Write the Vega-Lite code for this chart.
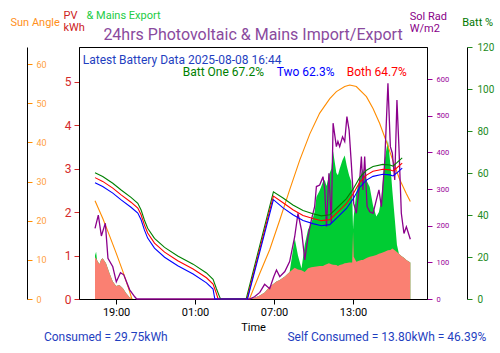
{
 "$schema": "https://vega.github.io/schema/vega-lite/v6.json",
 "width": 348, "height": 252,
 "autosize": {"type": "none"},
 "padding": {"left": 79, "top": 47, "right": 73, "bottom": 54},
 "background": "white",
 "config": {"font": "Roboto", "view": {"stroke": "black", "strokeWidth": 1}, "axis": {"grid": false, "domainColor": "black", "titleFontWeight": "normal", "titleFont": "Roboto", "labelFont": "Roboto"}},
 "title": {"text": "24hrs Photovoltaic & Mains Import/Export", "color": "#8a4a9e", "fontSize": 16, "fontWeight": "normal", "anchor": "middle", "frame": "group", "baseline": "alphabetic", "offset": 10, "dx": 0, "dy": 56.5},
 "datasets": {
  "pv": [
   {"t":"2025-08-07T17:24","pv":0.96,"top":1.00},
   {"t":"2025-08-07T17:29","pv":0.93,"top":1.09},
   {"t":"2025-08-07T17:33","pv":0.90,"top":0.90},
   {"t":"2025-08-07T17:44","pv":0.80,"top":0.80},
   {"t":"2025-08-07T17:52","pv":0.91,"top":0.91},
   {"t":"2025-08-07T17:59","pv":0.94,"top":0.94},
   {"t":"2025-08-07T18:14","pv":0.82,"top":0.82},
   {"t":"2025-08-07T18:30","pv":0.59,"top":0.59},
   {"t":"2025-08-07T18:45","pv":0.40,"top":0.40},
   {"t":"2025-08-07T19:00","pv":0.30,"top":0.30},
   {"t":"2025-08-07T19:15","pv":0.32,"top":0.32},
   {"t":"2025-08-07T19:31","pv":0.25,"top":0.25},
   {"t":"2025-08-07T19:46","pv":0.13,"top":0.13},
   {"t":"2025-08-07T20:01","pv":0.04,"top":0.04},
   {"t":"2025-08-07T20:16","pv":0,"top":0},
   {"t":"2025-08-08T05:08","pv":0,"top":0},
   {"t":"2025-08-08T05:31","pv":0.03,"top":0.03},
   {"t":"2025-08-08T05:55","pv":0.08,"top":0.08},
   {"t":"2025-08-08T06:17","pv":0.15,"top":0.15},
   {"t":"2025-08-08T06:40","pv":0.28,"top":0.28},
   {"t":"2025-08-08T06:58","pv":0.35,"top":0.35},
   {"t":"2025-08-08T07:11","pv":0.40,"top":0.40},
   {"t":"2025-08-08T07:26","pv":0.44,"top":0.44},
   {"t":"2025-08-08T07:49","pv":0.52,"top":0.52},
   {"t":"2025-08-08T08:11","pv":0.62,"top":0.62},
   {"t":"2025-08-08T08:34","pv":0.72,"top":1.40},
   {"t":"2025-08-08T08:49","pv":0.68,"top":1.00},
   {"t":"2025-08-08T09:05","pv":0.66,"top":0.70},
   {"t":"2025-08-08T09:20","pv":0.62,"top":1.25},
   {"t":"2025-08-08T09:35","pv":0.71,"top":1.60},
   {"t":"2025-08-08T09:50","pv":0.73,"top":1.75},
   {"t":"2025-08-08T10:05","pv":0.74,"top":2.00},
   {"t":"2025-08-08T10:13","pv":0.75,"top":2.35},
   {"t":"2025-08-08T10:28","pv":0.76,"top":2.50},
   {"t":"2025-08-08T10:43","pv":0.76,"top":2.70},
   {"t":"2025-08-08T10:51","pv":0.78,"top":2.74},
   {"t":"2025-08-08T10:59","pv":0.80,"top":2.60},
   {"t":"2025-08-08T11:10","pv":0.82,"top":2.85},
   {"t":"2025-08-08T11:21","pv":0.80,"top":3.00},
   {"t":"2025-08-08T11:29","pv":0.79,"top":3.40},
   {"t":"2025-08-08T11:44","pv":0.78,"top":2.90},
   {"t":"2025-08-08T11:51","pv":0.76,"top":2.85},
   {"t":"2025-08-08T11:59","pv":0.78,"top":3.00},
   {"t":"2025-08-08T12:12","pv":0.80,"top":3.20},
   {"t":"2025-08-08T12:22","pv":0.82,"top":3.30},
   {"t":"2025-08-08T12:32","pv":0.83,"top":3.05},
   {"t":"2025-08-08T12:42","pv":0.84,"top":2.85},
   {"t":"2025-08-08T12:52","pv":0.84,"top":2.70},
   {"t":"2025-08-08T12:56","pv":0.84,"top":2.40},
   {"t":"2025-08-08T13:00","pv":1.55,"top":1.60},
   {"t":"2025-08-08T13:03","pv":0.97,"top":1.90},
   {"t":"2025-08-08T13:15","pv":0.86,"top":2.45},
   {"t":"2025-08-08T13:27","pv":0.88,"top":2.70},
   {"t":"2025-08-08T13:38","pv":0.90,"top":2.90},
   {"t":"2025-08-08T13:45","pv":0.90,"top":3.00},
   {"t":"2025-08-08T13:53","pv":0.92,"top":2.85},
   {"t":"2025-08-08T14:04","pv":0.95,"top":2.70},
   {"t":"2025-08-08T14:16","pv":0.97,"top":2.58},
   {"t":"2025-08-08T14:31","pv":0.99,"top":2.15},
   {"t":"2025-08-08T14:46","pv":1.01,"top":1.90},
   {"t":"2025-08-08T14:58","pv":1.04,"top":2.00},
   {"t":"2025-08-08T15:09","pv":1.06,"top":2.30},
   {"t":"2025-08-08T15:24","pv":1.09,"top":3.20},
   {"t":"2025-08-08T15:39","pv":1.12,"top":3.66},
   {"t":"2025-08-08T15:50","pv":1.13,"top":3.10},
   {"t":"2025-08-08T15:59","pv":1.16,"top":2.50},
   {"t":"2025-08-08T16:10","pv":1.12,"top":1.85},
   {"t":"2025-08-08T16:20","pv":1.08,"top":1.25},
   {"t":"2025-08-08T16:29","pv":1.04,"top":1.04},
   {"t":"2025-08-08T16:40","pv":0.99,"top":0.99},
   {"t":"2025-08-08T16:52","pv":0.95,"top":0.95},
   {"t":"2025-08-08T17:03","pv":0.90,"top":0.90},
   {"t":"2025-08-08T17:21","pv":0.84,"top":0.84}
  ],
  "sun": [
   {"t":"2025-08-07T17:24","seg":"eve","deg":25.1},
   {"t":"2025-08-07T18:00","seg":"eve","deg":20.5},
   {"t":"2025-08-07T18:30","seg":"eve","deg":16.2},
   {"t":"2025-08-07T19:00","seg":"eve","deg":11.8},
   {"t":"2025-08-07T19:30","seg":"eve","deg":7.2},
   {"t":"2025-08-07T20:00","seg":"eve","deg":2.2},
   {"t":"2025-08-07T20:12","seg":"eve","deg":0},
   {"t":"2025-08-08T05:08","seg":"day","deg":0},
   {"t":"2025-08-08T05:55","seg":"day","deg":6.6},
   {"t":"2025-08-08T06:40","seg":"day","deg":12.6},
   {"t":"2025-08-08T07:26","seg":"day","deg":20.2},
   {"t":"2025-08-08T08:11","seg":"day","deg":27.9},
   {"t":"2025-08-08T08:57","seg":"day","deg":35.5},
   {"t":"2025-08-08T09:43","seg":"day","deg":42.2},
   {"t":"2025-08-08T10:28","seg":"day","deg":47.5},
   {"t":"2025-08-08T11:14","seg":"day","deg":51.2},
   {"t":"2025-08-08T11:44","seg":"day","deg":53.0},
   {"t":"2025-08-08T12:22","seg":"day","deg":54.3},
   {"t":"2025-08-08T12:45","seg":"day","deg":54.7},
   {"t":"2025-08-08T13:15","seg":"day","deg":54.3},
   {"t":"2025-08-08T14:01","seg":"day","deg":51.7},
   {"t":"2025-08-08T14:31","seg":"day","deg":48.7},
   {"t":"2025-08-08T15:01","seg":"day","deg":44.9},
   {"t":"2025-08-08T15:32","seg":"day","deg":40.2},
   {"t":"2025-08-08T16:02","seg":"day","deg":35.3},
   {"t":"2025-08-08T16:32","seg":"day","deg":30.6},
   {"t":"2025-08-08T17:03","seg":"day","deg":26.9},
   {"t":"2025-08-08T17:21","seg":"day","deg":24.9}
  ],
  "rad": [
   {"t":"2025-08-07T17:24","w":193},
   {"t":"2025-08-07T17:39","w":229},
   {"t":"2025-08-07T17:53","w":172},
   {"t":"2025-08-07T18:11","w":207},
   {"t":"2025-08-07T18:23","w":111},
   {"t":"2025-08-07T18:45","w":88},
   {"t":"2025-08-07T19:01","w":47},
   {"t":"2025-08-07T19:20","w":72},
   {"t":"2025-08-07T19:35","w":66},
   {"t":"2025-08-07T20:02","w":25},
   {"t":"2025-08-07T20:25","w":6},
   {"t":"2025-08-07T20:34","w":0},
   {"t":"2025-08-08T05:08","w":0},
   {"t":"2025-08-08T05:31","w":6},
   {"t":"2025-08-08T05:55","w":18},
   {"t":"2025-08-08T06:17","w":40},
   {"t":"2025-08-08T06:40","w":28},
   {"t":"2025-08-08T06:58","w":60},
   {"t":"2025-08-08T07:11","w":79},
   {"t":"2025-08-08T07:26","w":61},
   {"t":"2025-08-08T07:49","w":75},
   {"t":"2025-08-08T08:11","w":102},
   {"t":"2025-08-08T08:34","w":170},
   {"t":"2025-08-08T08:49","w":234},
   {"t":"2025-08-08T09:05","w":188},
   {"t":"2025-08-08T09:20","w":107},
   {"t":"2025-08-08T09:35","w":170},
   {"t":"2025-08-08T09:50","w":216},
   {"t":"2025-08-08T10:05","w":252},
   {"t":"2025-08-08T10:13","w":307},
   {"t":"2025-08-08T10:28","w":311},
   {"t":"2025-08-08T10:43","w":334},
   {"t":"2025-08-08T10:51","w":298},
   {"t":"2025-08-08T10:59","w":197},
   {"t":"2025-08-08T11:10","w":343},
   {"t":"2025-08-08T11:21","w":207},
   {"t":"2025-08-08T11:29","w":480},
   {"t":"2025-08-08T11:44","w":416},
   {"t":"2025-08-08T11:51","w":430},
   {"t":"2025-08-08T11:59","w":416},
   {"t":"2025-08-08T12:12","w":443},
   {"t":"2025-08-08T12:22","w":430},
   {"t":"2025-08-08T12:32","w":498},
   {"t":"2025-08-08T12:42","w":461},
   {"t":"2025-08-08T12:52","w":371},
   {"t":"2025-08-08T13:03","w":261},
   {"t":"2025-08-08T13:15","w":234},
   {"t":"2025-08-08T13:27","w":298},
   {"t":"2025-08-08T13:38","w":389},
   {"t":"2025-08-08T13:45","w":298},
   {"t":"2025-08-08T13:53","w":389},
   {"t":"2025-08-08T14:04","w":252},
   {"t":"2025-08-08T14:16","w":238},
   {"t":"2025-08-08T14:31","w":234},
   {"t":"2025-08-08T14:46","w":270},
   {"t":"2025-08-08T14:58","w":298},
   {"t":"2025-08-08T15:09","w":252},
   {"t":"2025-08-08T15:24","w":371},
   {"t":"2025-08-08T15:39","w":589},
   {"t":"2025-08-08T15:50","w":416},
   {"t":"2025-08-08T15:59","w":398},
   {"t":"2025-08-08T16:10","w":325},
   {"t":"2025-08-08T16:20","w":543},
   {"t":"2025-08-08T16:29","w":416},
   {"t":"2025-08-08T16:40","w":234},
   {"t":"2025-08-08T16:52","w":179},
   {"t":"2025-08-08T17:03","w":197},
   {"t":"2025-08-08T17:21","w":163}
  ],
  "batt": [
   {"t":"2025-08-07T17:24","k":"Batt One","pct":60.1},
   {"t":"2025-08-07T17:59","k":"Batt One","pct":58.3},
   {"t":"2025-08-07T18:45","k":"Batt One","pct":55.1},
   {"t":"2025-08-07T19:23","k":"Batt One","pct":51.9},
   {"t":"2025-08-07T20:08","k":"Batt One","pct":48.4},
   {"t":"2025-08-07T20:39","k":"Batt One","pct":45.6},
   {"t":"2025-08-07T20:54","k":"Batt One","pct":42.4},
   {"t":"2025-08-07T21:09","k":"Batt One","pct":37.6},
   {"t":"2025-08-07T21:24","k":"Batt One","pct":33.7},
   {"t":"2025-08-07T21:55","k":"Batt One","pct":28.9},
   {"t":"2025-08-07T22:41","k":"Batt One","pct":24.6},
   {"t":"2025-08-07T23:41","k":"Batt One","pct":20.5},
   {"t":"2025-08-08T00:51","k":"Batt One","pct":16.6},
   {"t":"2025-08-08T01:52","k":"Batt One","pct":12.4},
   {"t":"2025-08-08T02:22","k":"Batt One","pct":9.4},
   {"t":"2025-08-08T02:37","k":"Batt One","pct":5.0},
   {"t":"2025-08-08T02:50","k":"Batt One","pct":1.5},
   {"t":"2025-08-08T02:56","k":"Batt One","pct":0},
   {"t":"2025-08-08T04:53","k":"Batt One","pct":0},
   {"t":"2025-08-08T06:57","k":"Batt One","pct":51.0},
   {"t":"2025-08-08T07:41","k":"Batt One","pct":48.1},
   {"t":"2025-08-08T08:26","k":"Batt One","pct":44.8},
   {"t":"2025-08-08T09:12","k":"Batt One","pct":42.1},
   {"t":"2025-08-08T09:57","k":"Batt One","pct":40.6},
   {"t":"2025-08-08T10:36","k":"Batt One","pct":39.6},
   {"t":"2025-08-08T11:14","k":"Batt One","pct":40.1},
   {"t":"2025-08-08T11:51","k":"Batt One","pct":43.8},
   {"t":"2025-08-08T12:30","k":"Batt One","pct":47.8},
   {"t":"2025-08-08T13:00","k":"Batt One","pct":52.3},
   {"t":"2025-08-08T13:30","k":"Batt One","pct":57.8},
   {"t":"2025-08-08T14:01","k":"Batt One","pct":61.3},
   {"t":"2025-08-08T14:31","k":"Batt One","pct":63.1},
   {"t":"2025-08-08T15:16","k":"Batt One","pct":64.1},
   {"t":"2025-08-08T15:47","k":"Batt One","pct":63.8},
   {"t":"2025-08-08T16:02","k":"Batt One","pct":63.3},
   {"t":"2025-08-08T16:20","k":"Batt One","pct":64.9},
   {"t":"2025-08-08T16:44","k":"Batt One","pct":67.2},
   {"t":"2025-08-07T17:24","k":"Both","pct":57.8},
   {"t":"2025-08-07T17:59","k":"Both","pct":56.0},
   {"t":"2025-08-07T18:45","k":"Both","pct":52.8},
   {"t":"2025-08-07T19:23","k":"Both","pct":49.6},
   {"t":"2025-08-07T20:08","k":"Both","pct":46.1},
   {"t":"2025-08-07T20:39","k":"Both","pct":43.3},
   {"t":"2025-08-07T20:54","k":"Both","pct":40.1},
   {"t":"2025-08-07T21:09","k":"Both","pct":35.3},
   {"t":"2025-08-07T21:24","k":"Both","pct":31.4},
   {"t":"2025-08-07T21:55","k":"Both","pct":26.6},
   {"t":"2025-08-07T22:41","k":"Both","pct":22.3},
   {"t":"2025-08-07T23:41","k":"Both","pct":18.2},
   {"t":"2025-08-08T00:51","k":"Both","pct":14.3},
   {"t":"2025-08-08T01:52","k":"Both","pct":10.1},
   {"t":"2025-08-08T02:22","k":"Both","pct":7.1},
   {"t":"2025-08-08T02:37","k":"Both","pct":2.7},
   {"t":"2025-08-08T02:45","k":"Both","pct":0},
   {"t":"2025-08-08T04:57","k":"Both","pct":0},
   {"t":"2025-08-08T06:57","k":"Both","pct":49.0},
   {"t":"2025-08-08T07:41","k":"Both","pct":45.8},
   {"t":"2025-08-08T08:26","k":"Both","pct":42.5},
   {"t":"2025-08-08T09:12","k":"Both","pct":39.8},
   {"t":"2025-08-08T09:57","k":"Both","pct":38.3},
   {"t":"2025-08-08T10:36","k":"Both","pct":37.3},
   {"t":"2025-08-08T11:14","k":"Both","pct":37.8},
   {"t":"2025-08-08T11:51","k":"Both","pct":41.5},
   {"t":"2025-08-08T12:30","k":"Both","pct":45.5},
   {"t":"2025-08-08T13:00","k":"Both","pct":50.0},
   {"t":"2025-08-08T13:30","k":"Both","pct":55.5},
   {"t":"2025-08-08T14:01","k":"Both","pct":59.0},
   {"t":"2025-08-08T14:31","k":"Both","pct":60.8},
   {"t":"2025-08-08T15:16","k":"Both","pct":61.8},
   {"t":"2025-08-08T15:47","k":"Both","pct":61.5},
   {"t":"2025-08-08T16:02","k":"Both","pct":61.0},
   {"t":"2025-08-08T16:20","k":"Both","pct":62.5},
   {"t":"2025-08-08T16:44","k":"Both","pct":64.7},
   {"t":"2025-08-07T17:24","k":"Two","pct":55.4},
   {"t":"2025-08-07T17:59","k":"Two","pct":53.6},
   {"t":"2025-08-07T18:45","k":"Two","pct":50.4},
   {"t":"2025-08-07T19:23","k":"Two","pct":47.2},
   {"t":"2025-08-07T20:08","k":"Two","pct":43.7},
   {"t":"2025-08-07T20:39","k":"Two","pct":40.9},
   {"t":"2025-08-07T20:54","k":"Two","pct":37.7},
   {"t":"2025-08-07T21:09","k":"Two","pct":32.9},
   {"t":"2025-08-07T21:24","k":"Two","pct":29.0},
   {"t":"2025-08-07T21:55","k":"Two","pct":24.2},
   {"t":"2025-08-07T22:41","k":"Two","pct":19.9},
   {"t":"2025-08-07T23:41","k":"Two","pct":15.8},
   {"t":"2025-08-08T00:51","k":"Two","pct":11.9},
   {"t":"2025-08-08T01:52","k":"Two","pct":7.7},
   {"t":"2025-08-08T02:22","k":"Two","pct":4.7},
   {"t":"2025-08-08T02:30","k":"Two","pct":0},
   {"t":"2025-08-08T04:59","k":"Two","pct":0},
   {"t":"2025-08-08T06:57","k":"Two","pct":47.3},
   {"t":"2025-08-08T07:41","k":"Two","pct":43.4},
   {"t":"2025-08-08T08:26","k":"Two","pct":40.1},
   {"t":"2025-08-08T09:12","k":"Two","pct":37.4},
   {"t":"2025-08-08T09:57","k":"Two","pct":35.9},
   {"t":"2025-08-08T10:36","k":"Two","pct":34.9},
   {"t":"2025-08-08T11:14","k":"Two","pct":35.4},
   {"t":"2025-08-08T11:51","k":"Two","pct":39.1},
   {"t":"2025-08-08T12:30","k":"Two","pct":43.1},
   {"t":"2025-08-08T13:00","k":"Two","pct":47.6},
   {"t":"2025-08-08T13:30","k":"Two","pct":53.1},
   {"t":"2025-08-08T14:01","k":"Two","pct":56.6},
   {"t":"2025-08-08T14:31","k":"Two","pct":58.4},
   {"t":"2025-08-08T15:16","k":"Two","pct":59.4},
   {"t":"2025-08-08T15:47","k":"Two","pct":59.1},
   {"t":"2025-08-08T16:02","k":"Two","pct":58.6},
   {"t":"2025-08-08T16:20","k":"Two","pct":60.1},
   {"t":"2025-08-08T16:44","k":"Two","pct":62.3}
  ],
  "notes": [
   {"t":"2025-08-07T16:28","v":5.5,"txt":"Latest Battery Data 2025-08-08 16:44","k":"Info"},
   {"t":"2025-08-08T00:04","v":5.22,"txt":"Batt One 67.2%","k":"Batt One"},
   {"t":"2025-08-08T07:12","v":5.22,"txt":"Two 62.3%","k":"Two"},
   {"t":"2025-08-08T12:31","v":5.22,"txt":"Both 64.7%","k":"Both"},
   {"t":"2025-08-07T13:31","v":-0.875,"txt":"Consumed = 29.75kWh","k":"Info"},
   {"t":"2025-08-08T08:01","v":-0.875,"txt":"Self Consumed = 13.80kWh = 46.39%","k":"Info"}
  ]
 },
 "encoding": {
  "x": {"field": "t", "type": "temporal",
        "scale": {"domain": [{"year":2025,"month":8,"date":7,"hours":16,"minutes":11},{"year":2025,"month":8,"date":8,"hours":18,"minutes":37}]},
        "axis": {"title": "Time", "titleFontSize": 11, "titleColor": "black", "labelFontSize": 11, "labelColor": "black", "tickColor": "black", "format": "%H:%M", "labelFlush": false,
                 "values": [{"year":2025,"month":8,"date":7,"hours":19},{"year":2025,"month":8,"date":8,"hours":1},{"year":2025,"month":8,"date":8,"hours":7},{"year":2025,"month":8,"date":8,"hours":13}]}}
 },
 "layer": [
  {"data": {"name": "pv"}, "mark": {"type": "area", "color": "#00cc33"},
   "encoding": {"y": {"field": "top", "type": "quantitative", "scale": {"domain": [0, 5.8]},
     "axis": {"orient": "left", "title": "& Mains Export", "labels": false, "ticks": false, "domain": false, "titleAngle": 0, "titleAlign": "left", "titleBaseline": "alphabetic", "titleX": 7, "titleY": -28.7, "titleColor": "#22cc44", "titleFontSize": 11}}}},
  {"data": {"name": "pv"}, "mark": {"type": "area", "color": "#fa8072"},
   "encoding": {"y": {"field": "pv", "type": "quantitative", "scale": {"domain": [0, 5.8]},
     "axis": {"orient": "left", "values": [0,1,2,3,4,5], "labelColor": "#d42a2a", "labelFontSize": 12, "tickColor": "#d42a2a", "labelPadding": 3,
              "title": ["PV", "kWh"], "titleColor": "#cc2222", "titleFontSize": 11, "titleAngle": 0, "titleAlign": "left", "titleBaseline": "alphabetic", "titleX": -16, "titleY": -28.7, "titleLineHeight": 12.5}}}},
  {"data": {"name": "sun"}, "mark": {"type": "line", "color": "#ff8c00", "strokeWidth": 1.1},
   "encoding": {"detail": {"field": "seg"}, "y": {"field": "deg", "type": "quantitative", "scale": {"domain": [0, 64.4]},
     "axis": {"orient": "right", "offset": -400, "values": [0,10,20,30,40,50,60], "labelColor": "#ffa040", "labelFontSize": 9, "tickColor": "#ff8c00", "labelPadding": 4,
              "title": "Sun Angle", "titleColor": "#ff9020", "titleFontSize": 11, "titleAngle": 0, "titleAlign": "left", "titleBaseline": "alphabetic", "titleX": -17, "titleY": -21.5}}}},
  {"data": {"name": "rad"}, "mark": {"type": "line", "color": "#8b008b", "strokeWidth": 1.3},
   "encoding": {"y": {"field": "w", "type": "quantitative", "scale": {"domain": [0, 688]},
     "axis": {"orient": "right", "values": [0,100,200,300,400,500,600], "labelColor": "#990099", "labelFontSize": 7.5, "tickColor": "#990099", "labelPadding": 4,
              "title": ["Sol Rad", "W/m2"], "titleColor": "#880088", "titleFontSize": 11, "titleAngle": 0, "titleAlign": "left", "titleBaseline": "alphabetic", "titleX": -17.7, "titleY": -28, "titleLineHeight": 12}}}},
  {"data": {"name": "batt"}, "mark": {"type": "line", "strokeWidth": 1.1},
   "encoding": {
     "color": {"field": "k", "type": "nominal", "legend": null, "scale": {"domain": ["Batt One", "Two", "Both", "Info"], "range": ["#008000", "#0000ff", "#ff0000", "#1f3fbf"]}},
     "y": {"field": "pct", "type": "quantitative", "scale": {"domain": [0, 120]},
     "axis": {"orient": "right", "offset": 40, "values": [0,20,40,60,80,100,120], "labelColor": "#228b22", "labelFontSize": 10, "tickColor": "#228b22", "labelPadding": 5,
              "title": "Batt %", "titleColor": "#007700", "titleFontSize": 11, "titleAngle": 0, "titleAlign": "left", "titleBaseline": "alphabetic", "titleX": -5.3, "titleY": -22}}}},
  {"data": {"name": "notes"}, "mark": {"type": "text", "align": "left", "baseline": "middle", "fontSize": 12},
   "encoding": {
     "text": {"field": "txt"},
     "color": {"field": "k", "type": "nominal", "legend": null, "scale": {"domain": ["Batt One", "Two", "Both", "Info"], "range": ["#008000", "#0000ff", "#ff0000", "#1f3fbf"]}},
     "y": {"field": "v", "type": "quantitative", "scale": {"domain": [0, 5.8]}, "axis": null}}}
 ],
 "resolve": {"scale": {"y": "independent"}}
}
